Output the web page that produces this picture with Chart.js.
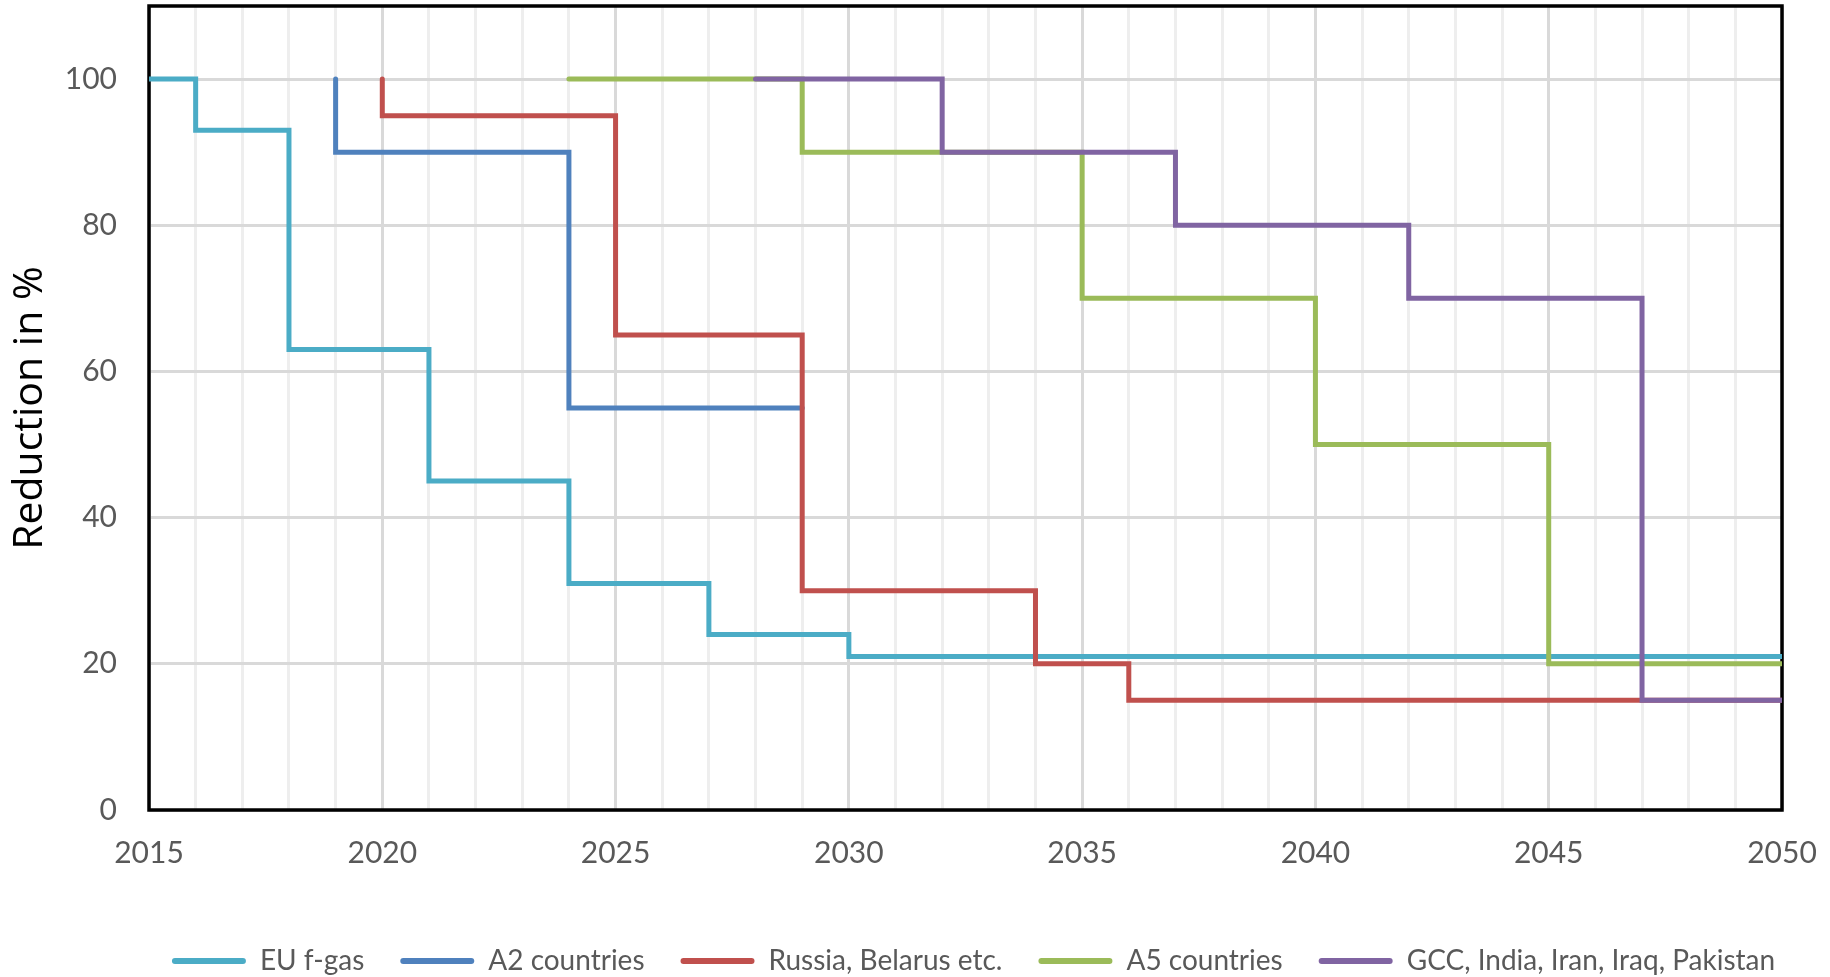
<!DOCTYPE html>
<html>
<head>
<meta charset="utf-8">
<script src="https://cdn.jsdelivr.net/npm/chart.js@4"></script>
<style>
  html, body { margin: 0; padding: 0; background: #fff; }
  #wrap { width: 1830px; height: 977px; position: relative; }
</style>
</head>
<body>
<div id="wrap"><canvas id="phaseDownChart"></canvas></div>
<script>
// Phase-down steps: year where each level starts, and the level in %
const euYears = [2015, 2016, 2018, 2021, 2024, 2027, 2030, 2050];
const euValues = [100, 93, 63, 45, 31, 24, 21, 21];

const a2Years = [2019, 2019, 2024, 2029];
const a2Values = [100, 90, 55, 55];

const russiaYears = [2020, 2020, 2025, 2029, 2034, 2036, 2050];
const russiaValues = [100, 95, 65, 30, 20, 15, 15];

const a5Years = [2024, 2029, 2035, 2040, 2045, 2050];
const a5Values = [100, 90, 70, 50, 20, 20];

const gccYears = [2028, 2032, 2037, 2042, 2047, 2050];
const gccValues = [100, 90, 80, 70, 15, 15];

const seriesLabels = ['EU f-gas', 'A2 countries', 'Russia, Belarus etc.', 'A5 countries', 'GCC, India, Iran, Iraq, Pakistan'];
const seriesColors = ['#4BACC6', '#4F81BD', '#C0504D', '#9BBB59', '#8064A2'];

const xMin = 2015, xMax = 2050;
const yMin = 0, yMax = 110;

function toPoints(years, values) {
    return years.map(function(y, i) { return { x: y, y: values[i] }; });
}

const allSeries = [
    toPoints(euYears, euValues),
    toPoints(a2Years, a2Values),
    toPoints(russiaYears, russiaValues),
    toPoints(a5Years, a5Values),
    toPoints(gccYears, gccValues)
];

// frame round the plot area (under the lines), legend centred under the plot
const plotFrame = {
    id: 'plotFrame',
    afterLayout(chart) {
        const lg = chart.legend;
        const a = chart.chartArea;
        const dx = (a.left + a.right) / 2 + 8 - (lg.left + lg.right) / 2;
        lg.left += dx;
        lg.right += dx;
    },
    beforeDatasetsDraw(chart) {
        const a = chart.chartArea;
        const ctx = chart.ctx;
        ctx.save();
        ctx.strokeStyle = '#000';
        ctx.lineWidth = 3.5;
        ctx.strokeRect(a.left, a.top, a.right - a.left, a.bottom - a.top);
        ctx.restore();
    }
};

const ctx = document.getElementById('phaseDownChart').getContext('2d');
const chart = new Chart(ctx, {
    type: 'line',
    data: {
        datasets: allSeries.map(function(pts, i) {
            return {
                label: seriesLabels[i],
                data: pts,
                borderColor: seriesColors[i],
                backgroundColor: seriesColors[i],
                borderWidth: 5,
                borderCapStyle: 'round',
                stepped: 'before',
                pointRadius: 0,
                fill: false,
                order: allSeries.length - i
            };
        })
    },
    options: {
        responsive: true,
        maintainAspectRatio: false,
        animation: false,
        layout: { padding: { left: 0, right: 48, top: 6, bottom: -8 } },
        plugins: {
            tooltip: { enabled: false },
            legend: {
                position: 'bottom',
                labels: {
                    boxWidth: 74,
                    boxHeight: 6,
                    padding: 36,
                    color: '#595959',
                    font: { family: 'Lato', size: 28 },
                    useBorderRadius: true,
                    borderRadius: 3,
                    sort: function(a, b) { return a.datasetIndex - b.datasetIndex; },
                    generateLabels: function(c) {
                        const items = Chart.defaults.plugins.legend.labels.generateLabels(c);
                        items.forEach(function(it) {
                            it.fillStyle = it.strokeStyle;
                            it.lineWidth = 0;
                        });
                        return items;
                    }
                }
            }
        },
        scales: {
            x: {
                type: 'linear',
                min: xMin,
                max: xMax,
                border: { display: false },
                grid: {
                    drawTicks: false,
                    lineWidth: 3,
                    color: function(c) {
                        return c.tick && c.tick.value % 5 === 0 ? '#d9d9d9' : '#eeeeee';
                    }
                },
                ticks: {
                    stepSize: 1,
                    autoSkip: false,
                    maxRotation: 0,
                    padding: 25,
                    color: '#595959',
                    font: { family: 'Lato', size: 30 },
                    callback: function(v) { return v % 5 === 0 ? String(v) : ''; }
                },
                afterFit: function(scale) {
                    scale.height = 101;
                    scale.paddingLeft = 0;
                    scale.paddingRight = 0;
                }
            },
            y: {
                min: yMin,
                max: yMax,
                border: { display: false },
                afterBuildTicks: function(scale) {
                    scale.ticks = scale.ticks.filter(function(t) { return t.value <= 100; });
                },
                grid: {
                    drawTicks: false,
                    lineWidth: 3,
                    color: '#d9d9d9'
                },
                ticks: {
                    stepSize: 20,
                    padding: 32,
                    color: '#595959',
                    font: { family: 'Lato', size: 30 }
                },
                title: {
                    display: true,
                    text: 'Reduction in %',
                    color: '#000',
                    padding: { top: 6, bottom: 0 },
                    font: { family: 'Open Sans', size: 41 }
                },
                afterFit: function(scale) {
                    scale.width = 149;
                    scale.paddingTop = 0;
                    scale.paddingBottom = 0;
                }
            }
        }
    },
    plugins: [plotFrame]
});
</script>
</body>
</html>
